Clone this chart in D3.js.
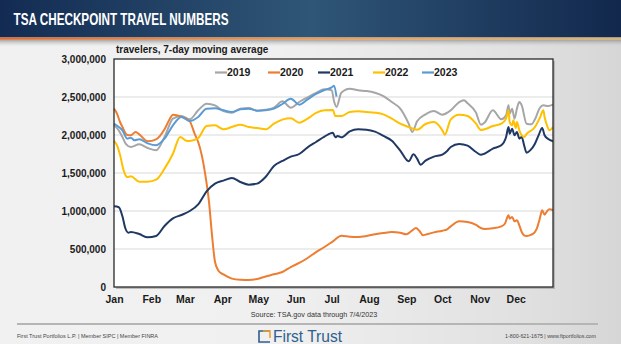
<!DOCTYPE html>
<html><head><meta charset="utf-8">
<script src="https://cdn.jsdelivr.net/npm/d3@7"></script>
<style>html,body{margin:0;padding:0;overflow:hidden;background:#e8e8e8}svg{display:block}</style>
</head><body><svg id="c" width="621" height="344"></svg>
<script>
// ---- data (day of year, travelers in thousands) ----
const monthLabels = ["Jan","Feb","Mar","Apr","May","Jun","Jul","Aug","Sep","Oct","Nov","Dec"];
const monthStarts = [0,31,59,90,120,151,181,212,243,273,304,334];
const yTicks = [0,500000,1000000,1500000,2000000,2500000,3000000];
const seriesNames = ["2019","2020","2021","2022","2023"];
const seriesColors = ["#a6a6a6","#ed7d31","#1f3864","#ffc000","#5b9bd5"];

const y2019 = [[0,2127],[4,2060],[7,1974],[10,1880],[14,1842],[21,1877],[28,1829],[35,1798],[42,1974],[49,2215],[56,2250],[63,2206],[70,2325],[77,2412],[84,2390],[91,2316],[98,2294],[105,2347],[112,2355],[119,2320],[126,2333],[133,2360],[140,2443],[147,2360],[154,2434],[161,2496],[168,2553],[175,2601],[181,2590],[183,2440],[185,2370],[189,2557],[196,2610],[203,2588],[210,2579],[217,2557],[224,2513],[231,2434],[238,2347],[245,2149],[248,2039],[252,2180],[259,2272],[266,2316],[273,2268],[280,2325],[287,2434],[291,2456],[294,2417],[301,2294],[305,2136],[308,2162],[315,2325],[322,2206],[326,2259],[328,2390],[329,2281],[331,2347],[333,2215],[335,2347],[337,2434],[339,2390],[343,2149],[347,2140],[350,2206],[354,2355],[357,2390],[361,2382],[365,2399]];
const y2020 = [[0,2347],[2.5,2281],[5,2171],[7,2105],[11,2000],[14,1996],[18,2040],[21,2009],[28,1917],[35,1943],[42,2075],[46,2200],[49,2268],[56,2241],[63,2180],[67,2018],[70,1908],[73,1732],[76,1469],[79,1118],[81.5,680],[84,329],[87,210],[91,165],[98,110],[105,95],[112,92],[119,105],[126,138],[133,167],[140,197],[147,263],[154,316],[161,382],[168,460],[175,526],[182,600],[189,675],[196,662],[203,658],[210,671],[217,693],[224,711],[231,724],[238,715],[243,693],[248,746],[251,776],[254,737],[257,680],[259,689],[266,719],[273,741],[277,759],[280,798],[287,864],[294,855],[301,816],[305,776],[308,763],[315,772],[322,798],[325,833],[328,943],[329,899],[331,921],[333,864],[335,877],[337,811],[339,724],[341,680],[343,671],[347,689],[350,724],[352,789],[354,899],[356,1009],[358,952],[360,996],[362,1022],[365,1013]];
const y2021 = [[0,1061],[4,1050],[7,930],[9.5,770],[12,715],[14,724],[21,697],[28,653],[35,671],[42,803],[49,903],[56,947],[63,1000],[70,1088],[77,1259],[84,1360],[91,1400],[98,1434],[105,1382],[112,1347],[119,1360],[126,1447],[133,1592],[140,1658],[147,1715],[154,1750],[161,1838],[168,1908],[175,1978],[182,2031],[184,1970],[186,1987],[189,1969],[196,2048],[203,2075],[210,2070],[217,2044],[224,1987],[231,1925],[238,1794],[245,1654],[249,1746],[252,1689],[255,1610],[259,1662],[266,1715],[273,1741],[277,1789],[280,1842],[287,1882],[294,1860],[301,1776],[305,1741],[308,1754],[315,1820],[322,1864],[326,1974],[328,2105],[329,2018],[331,2083],[333,1996],[335,2039],[337,1952],[339,1974],[341,1864],[343,1768],[346,1798],[350,1886],[353,1996],[356,2092],[358,1996],[361,1947],[365,1917]];
const y2022 = [[0,1921],[2.5,1864],[5,1740],[8,1535],[11,1447],[14,1456],[21,1386],[28,1386],[35,1412],[42,1557],[49,1754],[55,1975],[60,1925],[63,1921],[70,1960],[77,2118],[84,2127],[91,2075],[98,2105],[105,2136],[112,2105],[119,2092],[126,2075],[133,2149],[140,2202],[147,2219],[154,2162],[161,2215],[168,2290],[175,2325],[182,2329],[184,2250],[186,2250],[189,2250],[196,2303],[203,2311],[210,2303],[217,2294],[224,2272],[231,2215],[238,2149],[245,2105],[252,2070],[259,2145],[266,2171],[273,2061],[275,2004],[280,2206],[287,2268],[294,2250],[301,2149],[305,2066],[308,2075],[315,2118],[322,2149],[326,2215],[328,2325],[329,2171],[331,2127],[332,2193],[334,2092],[335,2171],[337,2061],[341,1974],[343,2013],[350,2105],[354,2224],[357,2325],[358,2237],[360,2127],[362,2061],[365,2105]];
const y2023 = [[0,2149],[4,2105],[7,2061],[11,1952],[14,1965],[17,1930],[21,1943],[28,1890],[35,1864],[42,1952],[49,2127],[56,2237],[63,2184],[70,2237],[77,2347],[84,2351],[91,2325],[98,2303],[105,2338],[112,2347],[119,2320],[126,2325],[133,2347],[140,2408],[147,2478],[154,2399],[161,2469],[168,2540],[175,2592],[181,2627],[183,2649],[185,2504]];
const allSeries = [y2019,y2020,y2021,y2022,y2023];

// ---- drawing ----
const svg = d3.select("#c");
const W = 621, H = 344;
const defs = svg.append("defs");
const bg = defs.append("linearGradient").attr("id","bg").attr("x1",0).attr("x2",1).attr("y1",0).attr("y2",0);
bg.append("stop").attr("offset","0%").attr("stop-color","#f1f1f1");
bg.append("stop").attr("offset","45%").attr("stop-color","#f0f0f0");
bg.append("stop").attr("offset","85%").attr("stop-color","#e0e0e0");
bg.append("stop").attr("offset","100%").attr("stop-color","#d6d6d6");
const hd = defs.append("linearGradient").attr("id","hd").attr("x1",0).attr("x2",1).attr("y1",0).attr("y2",0);
hd.append("stop").attr("offset","0%").attr("stop-color","#132b52");
hd.append("stop").attr("offset","50%").attr("stop-color","#2f5677");
hd.append("stop").attr("offset","100%").attr("stop-color","#12284d");
const ol = defs.append("linearGradient").attr("id","ol").attr("x1",0).attr("x2",1).attr("y1",0).attr("y2",0);
ol.append("stop").attr("offset","0%").attr("stop-color","#e4692c");
ol.append("stop").attr("offset","60%").attr("stop-color","#e9a35f");
ol.append("stop").attr("offset","100%").attr("stop-color","#d8b57a");
const sh = defs.append("linearGradient").attr("id","sh").attr("x1",0).attr("x2",0).attr("y1",0).attr("y2",1);
sh.append("stop").attr("offset","0%").attr("stop-color","#8c8c8c").attr("stop-opacity",0.8);
sh.append("stop").attr("offset","100%").attr("stop-color","#cccccc").attr("stop-opacity",0);

svg.append("rect").attr("width",W).attr("height",H).attr("fill","url(#bg)");
svg.append("rect").attr("x",0).attr("y",39.5).attr("width",W).attr("height",7).attr("fill","url(#sh)");
svg.append("rect").attr("width",W).attr("height",37.5).attr("fill","url(#hd)");
svg.append("rect").attr("x",0).attr("y",37.5).attr("width",W).attr("height",2.2).attr("fill","url(#ol)");
svg.append("text").attr("x",13.5).attr("y",25).text("TSA CHECKPOINT TRAVEL NUMBERS")
  .attr("fill","#ffffff").attr("font-family","'Liberation Sans Narrow','Liberation Sans',Arial,sans-serif")
  .attr("font-weight","bold").attr("font-size",17).attr("textLength",215).attr("lengthAdjust","spacingAndGlyphs");

const m = {l:114, t:59, r:553, b:287};
const x = d3.scaleLinear().domain([0,365]).range([m.l,m.r]);
const y = d3.scaleLinear().domain([0,3000000]).range([m.b,m.t]);

// plot background + shadow
svg.append("rect").attr("x",m.l+2).attr("y",m.t+2).attr("width",m.r-m.l).attr("height",m.b-m.t).attr("fill","#9a9a9a").attr("opacity",0.6);
svg.append("rect").attr("x",m.l).attr("y",m.t).attr("width",m.r-m.l).attr("height",m.b-m.t).attr("fill","#ffffff");

// grid
svg.append("g").selectAll("line").data(yTicks.slice(1,-1)).join("line")
  .attr("x1",m.l).attr("x2",m.r).attr("y1",d=>y(d)).attr("y2",d=>y(d))
  .attr("stroke","#d9d9d9").attr("stroke-width",1);

const font = "'Liberation Sans',Arial,sans-serif";
// y axis
const ya = svg.append("g").attr("transform",`translate(${m.l},0)`)
  .call(d3.axisLeft(y).tickValues(yTicks).tickFormat(d3.format(",")).tickSize(0).tickPadding(8));
ya.select(".domain").remove();
ya.selectAll("text").attr("font-family",font).attr("font-weight","bold").attr("font-size",10).attr("fill","#1a1a1a").attr("dy","0.36em");
// x axis
const xa = svg.append("g").attr("transform",`translate(0,${m.b})`)
  .call(d3.axisBottom(x).tickValues(monthStarts).tickFormat((d,i)=>monthLabels[i]).tickSize(0).tickPadding(9));
xa.select(".domain").remove();
xa.selectAll("text").attr("font-family",font).attr("font-weight","bold").attr("font-size",10.5).attr("fill","#1a1a1a");

// lines
const line = d3.line().x(d=>x(d[0])).y(d=>y(d[1]*1000)).curve(d3.curveMonotoneX);
svg.append("g").selectAll("path").data(allSeries).join("path")
  .attr("d",line).attr("fill","none").attr("stroke",(d,i)=>seriesColors[i])
  .attr("stroke-width",2).attr("stroke-linejoin","round");

// frame
svg.append("rect").attr("x",m.l).attr("y",m.t).attr("width",m.r-m.l).attr("height",m.b-m.t)
  .attr("fill","none").attr("stroke","#2a2a2a").attr("stroke-width",1.3);

// subtitle
svg.append("text").attr("x",116).attr("y",53).text("travelers, 7-day moving average")
  .attr("font-family",font).attr("font-weight","bold").attr("font-size",10).attr("fill","#1a1a1a");

// legend
const legX = [215,268,318,373,422];
const lg = svg.append("g").selectAll("g").data(seriesNames).join("g")
  .attr("transform",(d,i)=>`translate(${legX[i]},72.5)`);
lg.append("line").attr("x1",0).attr("x2",12).attr("y1",0).attr("y2",0).attr("stroke",(d,i)=>seriesColors[i]).attr("stroke-width",2.2);
lg.append("text").attr("x",12).attr("y",3.8).text(d=>d).attr("font-family",font).attr("font-weight","bold").attr("font-size",10.5).attr("fill","#1a1a1a");

// source
svg.append("text").attr("x",314).attr("y",317).attr("text-anchor","middle").text("Source: TSA.gov data through 7/4/2023")
  .attr("font-family",font).attr("font-size",7.2).attr("fill","#333");

// footer
svg.append("line").attr("x1",17).attr("x2",598).attr("y1",324).attr("y2",324).attr("stroke","#b5b5b5").attr("stroke-width",1.8);
svg.append("text").attr("x",17).attr("y",338).text("First Trust Portfolios L.P. | Member SIPC | Member FINRA")
  .attr("font-family","'Liberation Sans Narrow','Liberation Sans',Arial,sans-serif").attr("font-size",6.2).attr("fill","#444")
  .attr("textLength",141).attr("lengthAdjust","spacingAndGlyphs");
svg.append("text").attr("x",596).attr("y",338).attr("text-anchor","end").text("1-800-621-1675 | www.ftportfolios.com")
  .attr("font-family","'Liberation Sans Narrow','Liberation Sans',Arial,sans-serif").attr("font-size",6.2).attr("fill","#444")
  .attr("textLength",91).attr("lengthAdjust","spacingAndGlyphs");
// logo
const lgo = svg.append("g");
lgo.append("path").attr("d","M270,331 L259,331 L259,342 L270,342").attr("fill","none").attr("stroke","#2e5f8e").attr("stroke-width",1.6);
lgo.append("path").attr("d","M263,331 L270,331 L270,338").attr("fill","none").attr("stroke","#f0a030").attr("stroke-width",1.6);
svg.append("text").attr("x",273).attr("y",342).text("First Trust")
  .attr("font-family",font).attr("font-size",16).attr("fill","#2e5f8e")
  .attr("textLength",69).attr("lengthAdjust","spacingAndGlyphs");
</script></body></html>
